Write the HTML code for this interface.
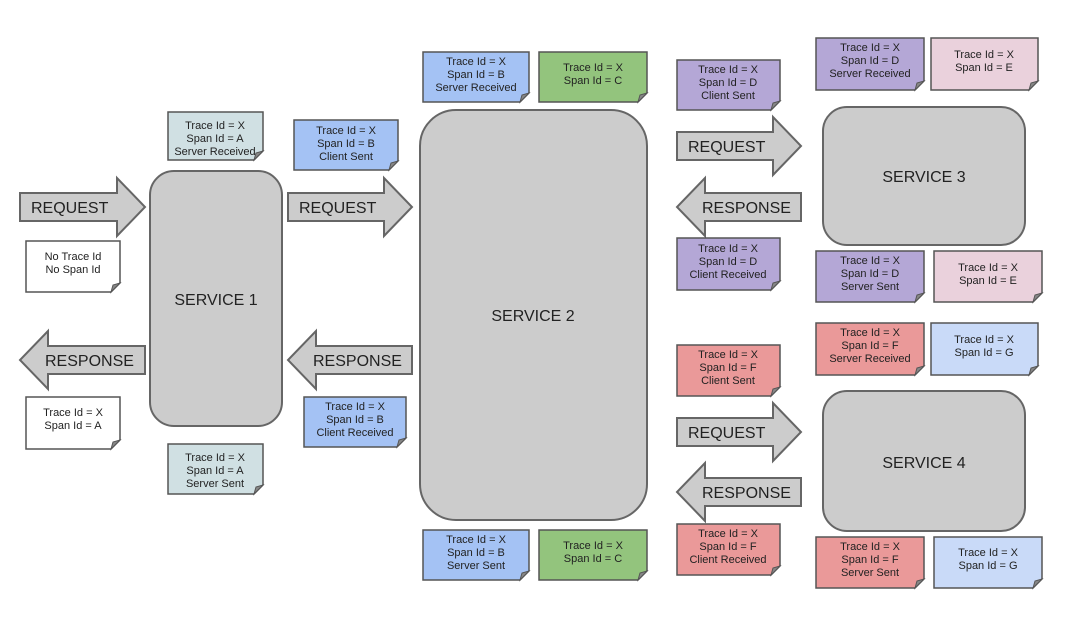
<!DOCTYPE html>
<html><head><meta charset="utf-8"><style>
html,body{margin:0;padding:0;background:#fff;}
svg{display:block;font-family:"Liberation Sans",Arial,sans-serif;}
</style></head><body>
<svg width="1084" height="620" viewBox="0 0 1084 620" xmlns="http://www.w3.org/2000/svg">
<defs>
<path id="f" d="M0,0 L-9,9 L-7,2 Z" fill="#888" stroke="#555" stroke-width="1"/>
</defs>
<g stroke="#666" stroke-width="2" fill="#cccccc">
<rect x="150" y="171" width="132" height="255" rx="24"/>
<rect x="420" y="110" width="227" height="410" rx="36"/>
<rect x="823" y="107" width="202" height="138" rx="24"/>
<rect x="823" y="391" width="202" height="140" rx="24"/>
</g>
<g font-size="16" fill="#222" text-anchor="middle">
<text x="216" y="305">SERVICE 1</text>
<text x="533" y="321">SERVICE 2</text>
<text x="924" y="182">SERVICE 3</text>
<text x="924" y="468">SERVICE 4</text>
</g>
<g stroke="#666" stroke-width="2" fill="#cccccc">
<path d="M20,193 H117 V178 L145,207 L117,236 V221 H20 Z"/>
<path d="M288,193 H384 V178 L412,207 L384,236 V221 H288 Z"/>
<path d="M677,132 H773 V117 L801,146 L773,175 V160 H677 Z"/>
<path d="M677,418 H773 V403 L801,432 L773,461 V446 H677 Z"/>
<path d="M145,346 H48 V331 L20,360 L48,389 V374 H145 Z"/>
<path d="M412,346 H316 V331 L288,360 L316,389 V374 H412 Z"/>
<path d="M801,193 H705 V178 L677,207 L705,236 V221 H801 Z"/>
<path d="M801,478 H705 V463 L677,492 L705,521 V506 H801 Z"/>
</g>
<g font-size="16" fill="#222">
<text x="31" y="213">REQUEST</text>
<text x="299" y="213">REQUEST</text>
<text x="688" y="152">REQUEST</text>
<text x="688" y="438">REQUEST</text>
<text x="45" y="366">RESPONSE</text>
<text x="313" y="366">RESPONSE</text>
<text x="702" y="213">RESPONSE</text>
<text x="702" y="498">RESPONSE</text>
</g>

<g stroke="#555" stroke-width="1.5">
<path fill="#d0e0e3" d="M168,112 H263 V151 L254,160 H168 Z"/>
<path fill="#ffffff" d="M26,241 H120 V283 L111,292 H26 Z"/>
<path fill="#ffffff" d="M26,397 H120 V440 L111,449 H26 Z"/>
<path fill="#d0e0e3" d="M168,444 H263 V485 L254,494 H168 Z"/>
<path fill="#a4c2f4" d="M294,120 H398 V161 L389,170 H294 Z"/>
<path fill="#a4c2f4" d="M304,397 H406 V438 L397,447 H304 Z"/>
<path fill="#a4c2f4" d="M423,52 H529 V93 L520,102 H423 Z"/>
<path fill="#93c47d" d="M539,52 H647 V93 L638,102 H539 Z"/>
<path fill="#a4c2f4" d="M423,530 H529 V571 L520,580 H423 Z"/>
<path fill="#93c47d" d="M539,530 H647 V571 L638,580 H539 Z"/>
<path fill="#b4a7d6" d="M677,60 H780 V101 L771,110 H677 Z"/>
<path fill="#b4a7d6" d="M677,238 H780 V281 L771,290 H677 Z"/>
<path fill="#b4a7d6" d="M816,38 H924 V81 L915,90 H816 Z"/>
<path fill="#ead1dc" d="M931,38 H1038 V81 L1029,90 H931 Z"/>
<path fill="#b4a7d6" d="M816,251 H924 V293 L915,302 H816 Z"/>
<path fill="#ead1dc" d="M934,251 H1042 V293 L1033,302 H934 Z"/>
<path fill="#ea9999" d="M677,345 H780 V387 L771,396 H677 Z"/>
<path fill="#ea9999" d="M677,524 H780 V566 L771,575 H677 Z"/>
<path fill="#ea9999" d="M816,323 H924 V366 L915,375 H816 Z"/>
<path fill="#c9daf8" d="M931,323 H1038 V366 L1029,375 H931 Z"/>
<path fill="#ea9999" d="M816,537 H924 V579 L915,588 H816 Z"/>
<path fill="#c9daf8" d="M934,537 H1042 V579 L1033,588 H934 Z"/>
</g>
<g>
<use href="#f" x="263" y="151"/><use href="#f" x="120" y="283"/><use href="#f" x="120" y="440"/>
<use href="#f" x="263" y="485"/><use href="#f" x="398" y="161"/><use href="#f" x="406" y="438"/>
<use href="#f" x="529" y="93"/><use href="#f" x="647" y="93"/><use href="#f" x="529" y="571"/>
<use href="#f" x="647" y="571"/><use href="#f" x="780" y="101"/><use href="#f" x="780" y="281"/>
<use href="#f" x="924" y="81"/><use href="#f" x="1038" y="81"/><use href="#f" x="924" y="293"/>
<use href="#f" x="1042" y="293"/><use href="#f" x="780" y="387"/><use href="#f" x="780" y="566"/>
<use href="#f" x="924" y="366"/><use href="#f" x="1038" y="366"/><use href="#f" x="924" y="579"/>
<use href="#f" x="1042" y="579"/>
</g>

<g font-size="11" fill="#222" text-anchor="middle">
<text x="215" y="129">Trace Id = X</text><text x="215" y="142">Span Id = A</text><text x="215" y="155">Server Received</text>
<text x="73" y="260">No Trace Id</text><text x="73" y="273">No Span Id</text>
<text x="73" y="416">Trace Id = X</text><text x="73" y="429">Span Id = A</text>
<text x="215" y="461">Trace Id = X</text><text x="215" y="474">Span Id = A</text><text x="215" y="487">Server Sent</text>
<text x="346" y="134">Trace Id = X</text><text x="346" y="147">Span Id = B</text><text x="346" y="160">Client Sent</text>
<text x="355" y="410">Trace Id = X</text><text x="355" y="423">Span Id = B</text><text x="355" y="436">Client Received</text>
<text x="476" y="65">Trace Id = X</text><text x="476" y="78">Span Id = B</text><text x="476" y="91">Server Received</text>
<text x="593" y="71">Trace Id = X</text><text x="593" y="84">Span Id = C</text>
<text x="476" y="543">Trace Id = X</text><text x="476" y="556">Span Id = B</text><text x="476" y="569">Server Sent</text>
<text x="593" y="549">Trace Id = X</text><text x="593" y="562">Span Id = C</text>
<text x="728" y="73">Trace Id = X</text><text x="728" y="86">Span Id = D</text><text x="728" y="99">Client Sent</text>
<text x="728" y="252">Trace Id = X</text><text x="728" y="265">Span Id = D</text><text x="728" y="278">Client Received</text>
<text x="870" y="51">Trace Id = X</text><text x="870" y="64">Span Id = D</text><text x="870" y="77">Server Received</text>
<text x="984" y="58">Trace Id = X</text><text x="984" y="71">Span Id = E</text>
<text x="870" y="264">Trace Id = X</text><text x="870" y="277">Span Id = D</text><text x="870" y="290">Server Sent</text>
<text x="988" y="271">Trace Id = X</text><text x="988" y="284">Span Id = E</text>
<text x="728" y="358">Trace Id = X</text><text x="728" y="371">Span Id = F</text><text x="728" y="384">Client Sent</text>
<text x="728" y="537">Trace Id = X</text><text x="728" y="550">Span Id = F</text><text x="728" y="563">Client Received</text>
<text x="870" y="336">Trace Id = X</text><text x="870" y="349">Span Id = F</text><text x="870" y="362">Server Received</text>
<text x="984" y="343">Trace Id = X</text><text x="984" y="356">Span Id = G</text>
<text x="870" y="550">Trace Id = X</text><text x="870" y="563">Span Id = F</text><text x="870" y="576">Server Sent</text>
<text x="988" y="556">Trace Id = X</text><text x="988" y="569">Span Id = G</text>
</g>
</svg>
</body></html>
